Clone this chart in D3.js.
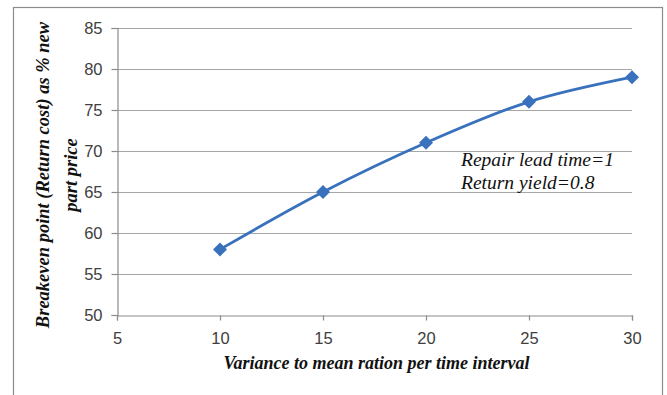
<!DOCTYPE html>
<html>
<head>
<meta charset="utf-8">
<script src="https://cdn.jsdelivr.net/npm/d3@7"></script>
<style>
  html, body { margin: 0; padding: 0; background: #fff; }
  svg { display: block; }
</style>
</head>
<body>
<svg id="chart" width="667" height="395"></svg>
<script>
// Breakeven return cost vs. variance-to-mean ratio
const varianceRatio = [10, 15, 20, 25, 30];
const breakevenPct = [58, 65, 71, 76, 79];
const xTicks = [5, 10, 15, 20, 25, 30];
const yTicks = [50, 55, 60, 65, 70, 75, 80, 85];
const noteLines = ["Repair lead time=1", "Return yield=0.8"];

const svg = d3.select("#chart");
const plotLeft = 117, plotRight = 632, plotTop = 28, plotBottom = 315;

// outer frame (bottom edge falls outside the page)
svg.append("rect")
  .attr("x", 13.5).attr("y", 7.5)
  .attr("width", 649).attr("height", 400)
  .attr("fill", "none").attr("stroke", "#8c8c8c").attr("stroke-width", 1.2);

const x = d3.scaleLinear().domain([5, 30]).range([plotLeft, plotRight]);
const y = d3.scaleLinear().domain([50, 85]).range([plotBottom, plotTop]);

// horizontal gridlines
svg.append("g")
  .selectAll("line")
  .data(yTicks.filter(v => v > 50))
  .join("line")
  .attr("x1", plotLeft).attr("x2", plotRight)
  .attr("y1", d => Math.round(y(d)) + 0.5).attr("y2", d => Math.round(y(d)) + 0.5)
  .attr("stroke", "#a6a6a6").attr("stroke-width", 1.2);

const tickFont = "'Liberation Sans', 'DejaVu Sans', sans-serif";

// y axis
const yAxis = svg.append("g")
  .attr("transform", `translate(${plotLeft + 0.5},0)`)
  .call(d3.axisLeft(y).tickValues(yTicks).tickSize(6).tickPadding(9).tickFormat(d3.format("d")));
yAxis.select(".domain").attr("stroke", "#8c8c8c").attr("stroke-width", 1.2);
yAxis.selectAll(".tick line").attr("stroke", "#8c8c8c").attr("stroke-width", 1.2);
yAxis.selectAll(".tick text")
  .attr("fill", "#404040").style("font-family", tickFont).style("font-size", "16.5px");

// x axis
const xAxis = svg.append("g")
  .attr("transform", `translate(0,${plotBottom + 0.5})`)
  .call(d3.axisBottom(x).tickValues(xTicks).tickSize(5).tickPadding(12).tickFormat(d3.format("d")));
xAxis.select(".domain").attr("stroke", "#8c8c8c").attr("stroke-width", 1.2);
xAxis.selectAll(".tick line").attr("stroke", "#8c8c8c").attr("stroke-width", 1.2);
xAxis.selectAll(".tick text")
  .attr("fill", "#404040").style("font-family", tickFont).style("font-size", "16.5px");

// data line (smoothed)
const pts = varianceRatio.map((v, i) => [v, breakevenPct[i]]);
svg.append("path")
  .datum(pts)
  .attr("fill", "none")
  .attr("stroke", "#3a71bd")
  .attr("stroke-width", 2.8)
  .attr("d", d3.line().x(d => x(d[0])).y(d => y(d[1])).curve(d3.curveCatmullRom.alpha(0.5)));

// diamond markers
svg.append("g")
  .selectAll("path")
  .data(pts)
  .join("path")
  .attr("transform", d => `translate(${x(d[0])},${y(d[1])})`)
  .attr("d", "M0,-7L7,0L0,7L-7,0Z")
  .attr("fill", "#3a71bd");

const serif = "'Liberation Serif', 'DejaVu Serif', serif";

// axis titles
svg.append("text")
  .attr("x", (plotLeft + plotRight) / 2 + 2).attr("y", 369)
  .attr("text-anchor", "middle")
  .style("font-family", serif).style("font-size", "18px")
  .style("font-weight", "bold").style("font-style", "italic")
  .attr("fill", "#111")
  .text("Variance to mean ration per time interval");

const yTitle = svg.append("text")
  .attr("transform", "translate(49,175) rotate(-90)")
  .attr("text-anchor", "middle")
  .style("font-family", serif).style("font-size", "18.5px")
  .style("font-weight", "bold").style("font-style", "italic")
  .attr("fill", "#111");
yTitle.append("tspan").attr("x", 0).attr("dy", 0).text("Breakeven point (Return cost) as % new");
yTitle.append("tspan").attr("x", 0).attr("dy", 28).text("part price");

// annotation
svg.append("g")
  .selectAll("text")
  .data(noteLines)
  .join("text")
  .attr("x", 461).attr("y", (d, i) => 166 + i * 23)
  .style("font-family", serif).style("font-size", "19.5px")
  .style("font-style", "italic")
  .attr("fill", "#111")
  .text(d => d);
</script>
</body>
</html>
